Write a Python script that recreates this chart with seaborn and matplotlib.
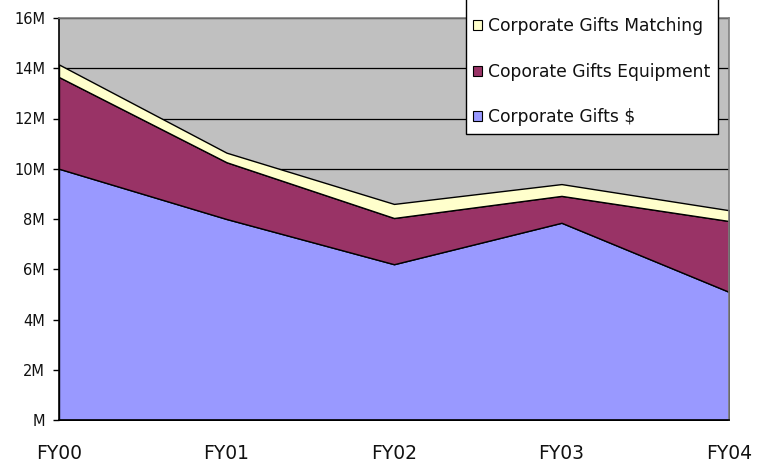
import matplotlib
matplotlib.use("Agg")
import matplotlib.pyplot as plt
import seaborn as sns
import pandas as pd
from matplotlib.patches import Patch, Rectangle

categories = ["FY00", "FY01", "FY02", "FY03", "FY04"]
gifts_dollars = [10.0, 8.0, 6.2, 7.85, 5.1]
gifts_equipment = [3.65, 2.26, 1.84, 1.07, 2.82]
gifts_matching = [0.5, 0.38, 0.56, 0.47, 0.43]
series_names = ["Corporate Gifts $", "Coporate Gifts Equipment", "Corporate Gifts Matching"]
series_colors = ["#9999FF", "#993366", "#FFFFCC"]
y_ticks = [0, 2, 4, 6, 8, 10, 12, 14, 16]
y_tick_labels = ["M", "2M", "4M", "6M", "8M", "10M", "12M", "14M", "16M"]

df = pd.DataFrame({"cat": categories,
                   series_names[0]: gifts_dollars,
                   series_names[1]: gifts_equipment,
                   series_names[2]: gifts_matching})

sns.set_style("white")
plt.rcParams["font.family"] = ["DejaVu Sans"]

fig = plt.figure(figsize=(7.57, 4.66), dpi=100)
W, H = 757, 466
ax = fig.add_axes([59 / W, (H - 420) / H, (729 - 59) / W, (420 - 18) / H])
ax.set_facecolor("#C0C0C0")

x = list(range(len(categories)))
ax.stackplot(x, df[series_names[0]], df[series_names[1]], df[series_names[2]],
             colors=series_colors, edgecolor="black", linewidth=1.0, zorder=3)

for yv in y_ticks[1:]:
    ax.axhline(yv, color="black", lw=0.9, zorder=1)

ax.set_xlim(0, len(categories) - 1)
ax.set_ylim(0, 16)
ax.set_xticks(x)
ax.set_xticklabels(categories, fontsize=13.5, color="#111111")
ax.set_yticks(y_ticks)
ax.set_yticklabels(y_tick_labels, fontsize=10.5, color="#111111")
ax.tick_params(axis="x", length=0, pad=17)
ax.tick_params(axis="y", length=4, width=1, pad=6, color="black", left=True)
ax.set_xlabel("")
ax.set_ylabel("")

for side in ["top", "right"]:
    ax.spines[side].set_color("#808080")
    ax.spines[side].set_linewidth(1.2)
for side in ["left", "bottom"]:
    ax.spines[side].set_color("black")
    ax.spines[side].set_linewidth(1.2)
for s in ax.spines.values():
    s.set_zorder(5)

# legend box
box = Rectangle((466 / W, (H - 134) / H), (718 - 466) / W, 136 / H,
                transform=fig.transFigure, facecolor="white", edgecolor="black",
                linewidth=1.0, zorder=4)
fig.add_artist(box)

handles = [Patch(facecolor=series_colors[i], edgecolor="black", linewidth=0.8, label=series_names[i])
           for i in [2, 1, 0]]
leg = fig.legend(handles=handles, loc="upper left",
                 bbox_to_anchor=(473 / W, 1 - 17.4 / H), bbox_transform=fig.transFigure,
                 fontsize=12.3, frameon=False,
                 handlelength=0.5, handleheight=0.5,
                 handletextpad=0.35, labelspacing=1.6, borderpad=0, borderaxespad=0)
leg.set_zorder(6)
for t in leg.get_texts():
    t.set_color("#111111")

fig.savefig("out.png", dpi=100)
